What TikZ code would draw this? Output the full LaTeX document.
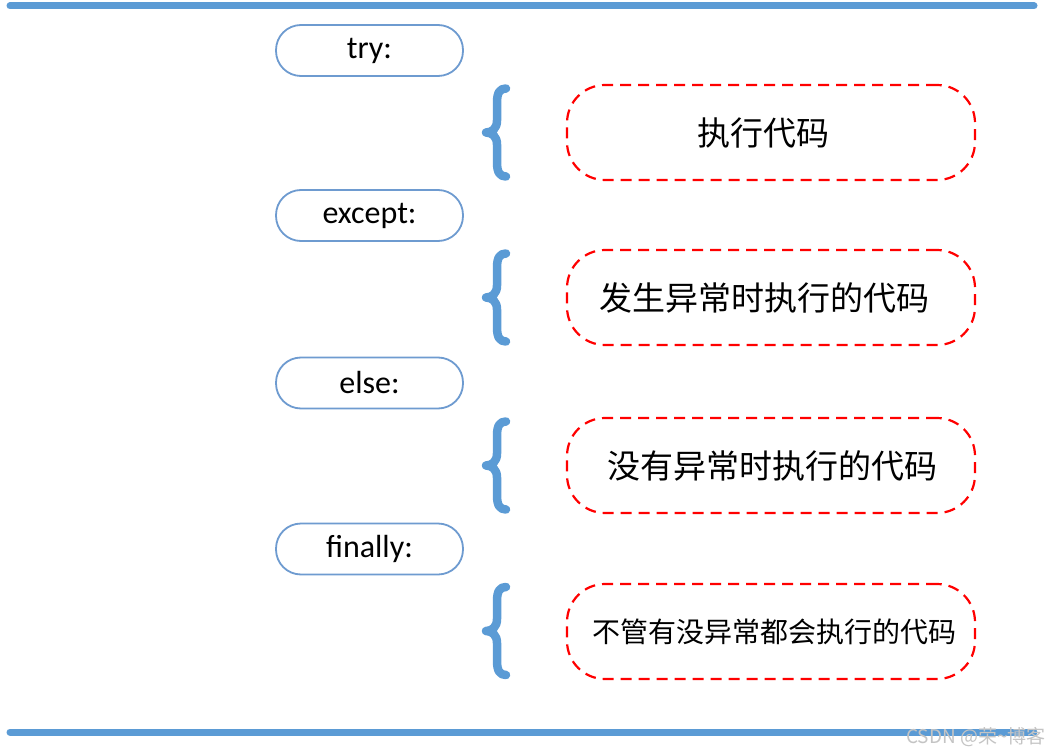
\documentclass[tikz,border=0pt]{standalone}
\usepackage{fontspec}
\setmainfont{Carlito}
\newfontfamily\cjk{Noto Sans CJK SC}
\definecolor{kwblue}{HTML}{5B9BD5}
\definecolor{boxblue}{HTML}{6E9BD0}
\definecolor{wmgray}{HTML}{C4C4C4}
\tikzset{
  kwbox/.style={draw=boxblue, line width=1.8pt, rounded corners=25pt,
    minimum width=187pt, minimum height=51pt, inner sep=0pt,
    font=\fontsize{32}{36}\selectfont},
  codebox/.style={draw=red, line width=2.2pt, dash pattern=on 11pt off 7pt,
    rounded corners=38pt, minimum width=408pt, minimum height=95pt, inner sep=0pt},
  codetext/.style={inner sep=0pt, font=\cjk\fontsize{33}{38}\selectfont},
  bar/.style={draw=kwblue, line width=7pt, line cap=round},
  bracestyle/.style={draw=kwblue, line width=8.5pt, line cap=round, line join=round},
  lbrace/.pic={
    \draw[bracestyle] (9,-44) .. controls (3,-44) and (0,-40) .. (0,-30)
      -- (0,-12) .. controls (0,-4) and (-5,0) .. (-11,0)
      .. controls (-5,0) and (0,4) .. (0,12)
      -- (0,30) .. controls (0,40) and (3,44) .. (9,44);
  }
}
\begin{document}
\begin{tikzpicture}[x=1pt,y=-1pt]
\useasboundingbox[fill=white] (0,0) rectangle (1049,754);
% bars
\coordinate (tl) at (10,6);
\coordinate (tr) at (1034,6);
\coordinate (bl) at (10,732);
\coordinate (br) at (1034,732);
\draw[bar] (tl) -- (tr);
\draw[bar] (bl) -- (br);
% keyword boxes
\node[kwbox] (try) at (369.5,50.5) {try:};
\node[kwbox] (except) at (369.5,215.5) {except:};
\node[kwbox] (else) at (369.5,383) {else:};
\node[kwbox] (finally) at (369.5,549) {finally:};
% braces
\pic at (497,132.5) {lbrace};
\pic at (497,297.5) {lbrace};
\pic at (497,465.5) {lbrace};
\pic at (497,631) {lbrace};
% code boxes
\node[codebox] (c1) at (771,132.5) {};
\node[codebox] (c2) at (771,297.5) {};
\node[codebox] (c3) at (771,465.5) {};
\node[codebox] (c4) at (771,631.5) {};
\node[codetext, xshift=-8pt] (t1) at (c1.center) {执行代码};
\node[codetext, xshift=-7pt] (t2) at (c2.center) {发生异常时执行的代码};
\node[codetext, xshift=1pt] (t3) at (c3.center) {没有异常时执行的代码};
\node[codetext, xshift=3pt, font=\cjk\fontsize{28}{34}\selectfont] (t4) at (c4.center) {不管有没异常都会执行的代码};
% watermark
\node[anchor=east, text=wmgray, font=\cjk\fontsize{19}{22}\selectfont, inner sep=0pt] (wm) at (1046,737) {CSDN @荣\textasciitilde 博客};
\end{tikzpicture}
\end{document}
